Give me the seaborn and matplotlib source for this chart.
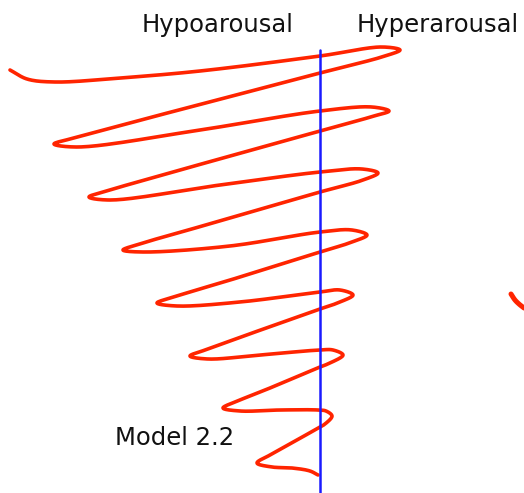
import numpy as np
import pandas as pd
import matplotlib
matplotlib.use("Agg")
import matplotlib.pyplot as plt
import seaborn as sns

# ---- data (pixel coordinates, y downward) ----
labels_top = ["Hypoarousal", "Hyperarousal"]
label_top_x = [218, 438]
label_top_y = [25, 25]
model_label = "Model 2.2"
model_x = 175
model_y = 438

divider_x = 320
divider_y = [50, 493]

# waypoints of the hand-drawn coil (start -> end)
coil_x = [10, 27, 55, 120, 200, 320, 382, 400,
          385, 320, 190, 78, 54,
          78, 200, 320, 372, 389,
          374, 320, 205, 110, 89,
          110, 220, 320, 362, 378,
          363, 320, 220, 143, 123,
          143, 230, 320, 352, 367,
          352, 320, 240, 177, 157,
          177, 240, 320, 340, 353,
          340, 320, 255, 208, 190,
          208, 260, 320, 333, 343,
          330, 320, 270, 240, 223,
          240, 280, 318, 326, 332,
          325, 320, 288, 272, 257,
          272, 292, 310, 318]
coil_y = [70, 79, 82, 78, 71, 56, 47, 50,
          56, 73, 107, 137, 144,
          147, 130, 111, 107, 111,
          116, 131, 163, 190, 197,
          200, 185, 172, 169, 173,
          180, 192, 221, 243, 250,
          252, 246, 232, 230, 235,
          242, 252, 277, 296, 303,
          306, 302, 292, 290, 295,
          302, 309, 332, 349, 356,
          359, 355, 350, 350, 355,
          363, 367, 388, 400, 408,
          411, 410, 410, 411, 416,
          424, 427, 445, 454, 463,
          467, 468, 471, 475]

# small cut-off stroke at the right edge
edge_x = [511, 515, 519, 524]
edge_y = [294, 300, 304, 308]


def smooth(px, py, n=24):
    """centripetal Catmull-Rom through the waypoints"""
    P = np.column_stack([px, py]).astype(float)
    P = np.vstack([2 * P[0] - P[1], P, 2 * P[-1] - P[-2]])
    out = []
    for i in range(1, len(P) - 2):
        p0, p1, p2, p3 = P[i - 1], P[i], P[i + 1], P[i + 2]
        def tj(ti, a, b):
            return ti + max(np.linalg.norm(b - a), 1e-6) ** 0.5
        t0 = 0.0
        t1 = tj(t0, p0, p1)
        t2 = tj(t1, p1, p2)
        t3 = tj(t2, p2, p3)
        t = np.linspace(t1, t2, n, endpoint=False)[:, None]
        A1 = (t1 - t) / (t1 - t0) * p0 + (t - t0) / (t1 - t0) * p1
        A2 = (t2 - t) / (t2 - t1) * p1 + (t - t1) / (t2 - t1) * p2
        A3 = (t3 - t) / (t3 - t2) * p2 + (t - t2) / (t3 - t2) * p3
        B1 = (t2 - t) / (t2 - t0) * A1 + (t - t0) / (t2 - t0) * A2
        B2 = (t3 - t) / (t3 - t1) * A2 + (t - t1) / (t3 - t1) * A3
        C = (t2 - t) / (t2 - t1) * B1 + (t - t1) / (t2 - t1) * B2
        out.append(C)
    out.append(P[-2][None, :])
    C = np.vstack(out)
    return C[:, 0], C[:, 1]


sx, sy = smooth(coil_x, coil_y)
coil_df = pd.DataFrame({"x": sx, "y": sy})
ex, ey = smooth(edge_x, edge_y, n=10)
edge_df = pd.DataFrame({"x": ex, "y": ey})

sns.set_theme(style="white")
plt.rcParams["font.family"] = ["DejaVu Sans"]

fig = plt.figure(figsize=(5.24, 4.93), dpi=100)
ax = fig.add_axes([0, 0, 1, 1])

red = "#ff2400"
sns.lineplot(data=coil_df, x="x", y="y", sort=False, estimator=None,
             color=red, linewidth=2.6, ax=ax, solid_capstyle="round",
             solid_joinstyle="round")
sns.lineplot(data=edge_df, x="x", y="y", sort=False, estimator=None,
             color=red, linewidth=3.6, ax=ax, solid_capstyle="round")
ax.plot([divider_x, divider_x], divider_y, color="#1a1aff", linewidth=1.8,
        zorder=3)

for t, x, y in zip(labels_top, label_top_x, label_top_y):
    ax.text(x, y, t, ha="center", va="center", fontsize=17.5, color="#111111")
ax.text(model_x, model_y, model_label, ha="center", va="center",
        fontsize=17.5, color="#111111")

ax.set_xlim(0, 524)
ax.set_ylim(493, 0)
ax.axis("off")
fig.savefig("out.png", dpi=100, facecolor="white")
